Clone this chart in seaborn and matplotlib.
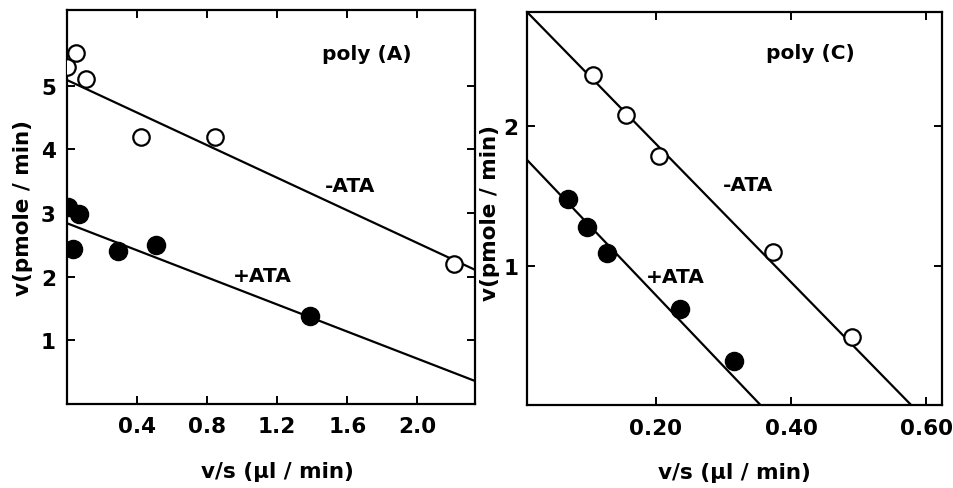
import numpy as np
import pandas as pd
import matplotlib
matplotlib.use("Agg")
import matplotlib.pyplot as plt
import seaborn as sns

# ---- data: poly(A) panel ----
a_open_x = [0.00, 0.05, 0.11, 0.42, 0.845, 2.21]
a_open_y = [5.30, 5.52, 5.10, 4.20, 4.20, 2.20]
a_fill_x = [0.005, 0.07, 0.035, 0.29, 0.51, 1.39]
a_fill_y = [3.10, 2.98, 2.44, 2.40, 2.50, 1.38]
a_line_intercepts = [5.09, 2.84]   # -ATA, +ATA
a_line_slopes = [-1.28, -1.064]
a_xticks = [0.4, 0.8, 1.2, 1.6, 2.0]
a_xticklabels = ["0.4", "0.8", "1.2", "1.6", "2.0"]
a_yticks = [1, 2, 3, 4, 5]
a_yticklabels = ["1", "2", "3", "4", "5"]

# ---- data: poly(C) panel ----
c_open_x = [0.108, 0.156, 0.205, 0.373, 0.49]
c_open_y = [2.37, 2.08, 1.79, 1.10, 0.49]
c_fill_x = [0.070, 0.099, 0.128, 0.236, 0.316]
c_fill_y = [1.48, 1.28, 1.09, 0.686, 0.316]
c_line_intercepts = [2.87, 1.81]
c_line_slopes = [-4.97, -5.10]
c_xticks = [0.20, 0.40, 0.60]
c_xticklabels = ["0.20", "0.40", "0.60"]
c_yticks = [1, 2]
c_yticklabels = ["1", "2"]

sns.set_theme(style="ticks")
plt.rcParams['font.family'] = ['DejaVu Sans']
plt.rcParams['font.weight'] = 'bold'
plt.rcParams['text.color'] = 'black'
plt.rcParams['axes.labelcolor'] = 'black'
plt.rcParams['xtick.color'] = 'black'
plt.rcParams['ytick.color'] = 'black'

fig = plt.figure(figsize=(9.54, 4.89), dpi=100)
axA = fig.add_axes([0.0702, 0.1718, 0.4278, 0.8057])
axC = fig.add_axes([0.5524, 0.1697, 0.4350, 0.8037])

TICK_FS = 15.5
LAB_FS = 15.5
TXT_FS = 14.5

def panel(ax, ox, oy, fx, fy, ints, slopes, xlim, ylim, xt, xtl, yt, ytl, title, title_xy,
          minus_xy, plus_xy, ylab_xy, xlab_xy, ypad):
    dfo = pd.DataFrame({"x": ox, "y": oy})
    dff = pd.DataFrame({"x": fx, "y": fy})
    for b, m in zip(ints, slopes):
        ax.axline((0, b), slope=m, color="black", lw=1.6, zorder=1)
    sns.scatterplot(data=dfo, x="x", y="y", ax=ax, s=140, facecolor="white",
                    edgecolor="black", linewidth=1.6, zorder=3)
    sns.scatterplot(data=dff, x="x", y="y", ax=ax, s=170, color="black",
                    edgecolor="black", linewidth=1.0, zorder=3)
    ax.set_xlim(*xlim)
    ax.set_ylim(*ylim)
    ax.set_xticks(xt)
    ax.set_xticklabels(xtl)
    ax.set_yticks(yt)
    ax.set_yticklabels(ytl)
    ax.tick_params(direction="in", length=6, width=1.4, top=True, right=True,
                   labelsize=TICK_FS, colors="black")
    ax.tick_params(axis="x", pad=9)
    ax.tick_params(axis="y", pad=ypad)
    for lab in ax.get_xticklabels() + ax.get_yticklabels():
        lab.set_fontweight("bold")
        lab.set_color("black")
    for sp in ax.spines.values():
        sp.set_linewidth(1.6)
        sp.set_color("black")
    ax.set_xlabel("v/s (μl / min)", fontsize=LAB_FS, fontweight="bold", color="black")
    ax.set_ylabel("v(pmole / min)", fontsize=LAB_FS, fontweight="bold", color="black")
    ax.xaxis.label.set_va("center")
    ax.yaxis.label.set_va("center")
    ax.xaxis.set_label_coords(*xlab_xy)
    ax.yaxis.set_label_coords(*ylab_xy)
    for txt, xy in ((title, title_xy), ("-ATA", minus_xy), ("+ATA", plus_xy)):
        ax.text(*xy, txt, transform=ax.transAxes, ha="center", va="center",
                fontsize=TXT_FS, fontweight="bold", color="black")
    ax.grid(False)

panel(axA, a_open_x, a_open_y, a_fill_x, a_fill_y, a_line_intercepts, a_line_slopes,
      (0, 2.33), (0, 6.19), a_xticks, a_xticklabels, a_yticks, a_yticklabels,
      "poly (A)", ((367-67)/408, (405-54)/394),
      ((350-67)/408, (405-187)/394), ((262-67)/408, (405-277)/394),
      (-0.108, 0.50), (0.515, -0.17), 8)

panel(axC, c_open_x, c_open_y, c_fill_x, c_fill_y, c_line_intercepts, c_line_slopes,
      (0.01, 0.623), (0, 2.82), c_xticks, c_xticklabels, c_yticks, c_yticklabels,
      "poly (C)", ((810-527)/415, (406-53)/393),
      ((748-527)/415, (406-185)/393), ((675-527)/415, (406-277)/393),
      (-0.088, 0.49), (0.501, -0.17), 6)

fig.savefig("out.png", dpi=100)
